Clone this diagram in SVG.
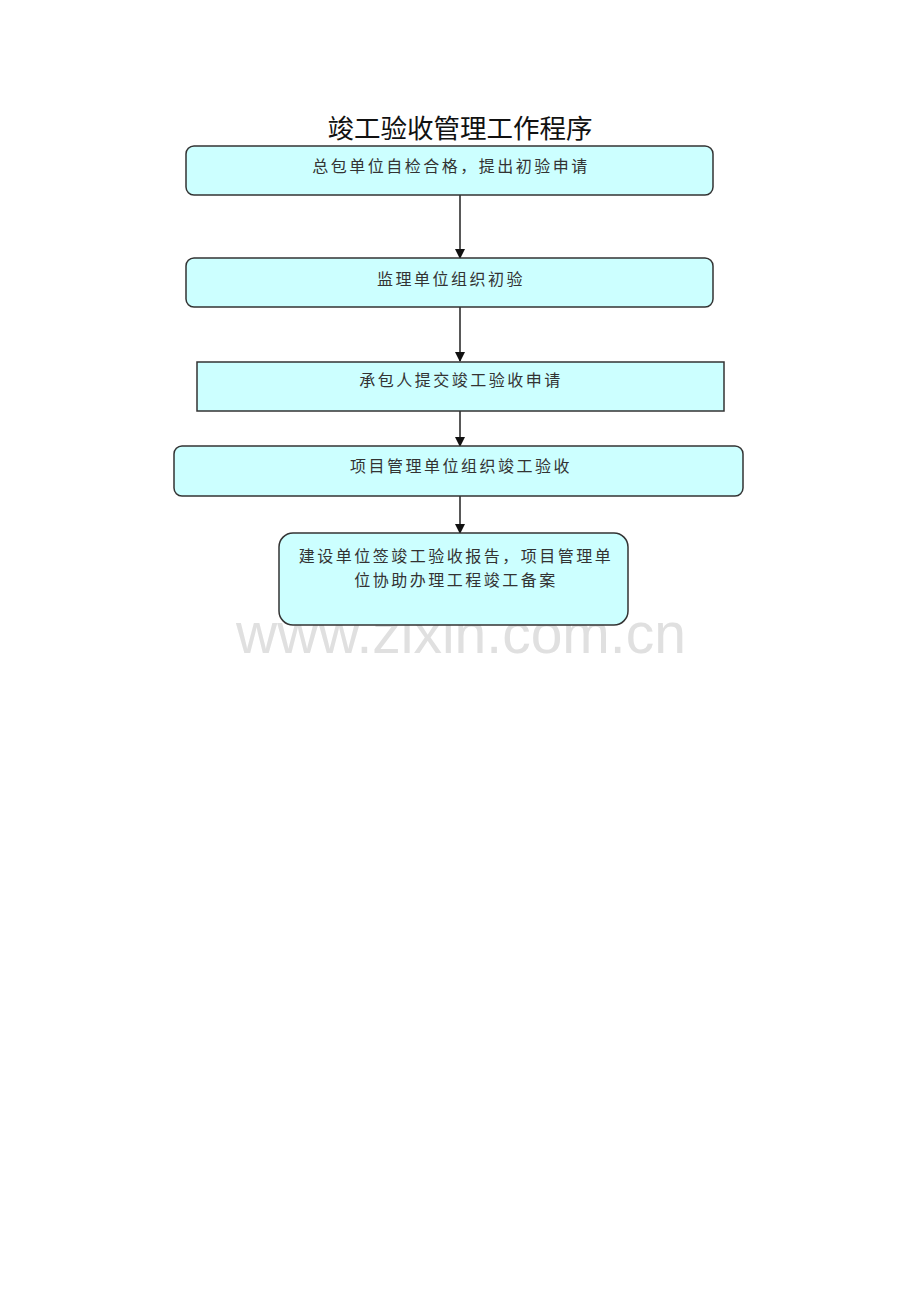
<svg xmlns="http://www.w3.org/2000/svg" width="920" height="1302" viewBox="0 0 920 1302">
<style>
.box{fill:#CCFFFF;stroke:#333;stroke-width:1.5}
.t{font-family:"Noto Sans CJK SC","Noto Sans",sans-serif;font-size:16px;fill:#333;text-anchor:middle;letter-spacing:2.5px}
.c{stroke:#222;stroke-width:1.5;fill:none}
</style>
<defs>
<marker id="ah" markerWidth="10" markerHeight="10" refX="9" refY="5" orient="auto" markerUnits="userSpaceOnUse">
<path d="M0,0 L10,5 L0,10 Z" fill="#111"/>
</marker>
</defs>
<rect width="920" height="1302" fill="#fff"/>
<text x="460" y="138" font-family="'Noto Sans CJK SC',sans-serif" font-size="26.5" text-anchor="middle" fill="#111">竣工验收管理工作程序</text>
<text x="461" y="653" font-family="'Liberation Sans',Arial,sans-serif" font-size="57" text-anchor="middle" fill="#e0e0e0">www.zixin.com.cn</text>
<g id="connectors">
<line class="c" x1="460" y1="195" x2="460" y2="258" marker-end="url(#ah)"/>
<line class="c" x1="460" y1="307" x2="460" y2="361" marker-end="url(#ah)"/>
<line class="c" x1="460" y1="411" x2="460" y2="446" marker-end="url(#ah)"/>
<line class="c" x1="460" y1="496" x2="460" y2="533" marker-end="url(#ah)"/>
</g>
<g id="n1"><rect class="box" x="186" y="146" width="527" height="49" rx="8"/><text class="t" x="451" y="172">总包单位自检合格，提出初验申请</text></g>
<g id="n2"><rect class="box" x="186" y="258" width="527" height="49" rx="8"/><text class="t" x="451" y="285">监理单位组织初验</text></g>
<g id="n3"><rect class="box" x="197" y="362" width="527" height="49"/><text class="t" x="461" y="386">承包人提交竣工验收申请</text></g>
<g id="n4"><rect class="box" x="174" y="446" width="569" height="50" rx="8"/><text class="t" x="461" y="472">项目管理单位组织竣工验收</text></g>
<g id="n5"><rect class="box" x="279" y="533" width="349" height="92" rx="14"/><text class="t" x="456" y="562">建设单位签竣工验收报告，项目管理单</text><text class="t" x="456" y="586">位协助办理工程竣工备案</text></g>
</svg>
